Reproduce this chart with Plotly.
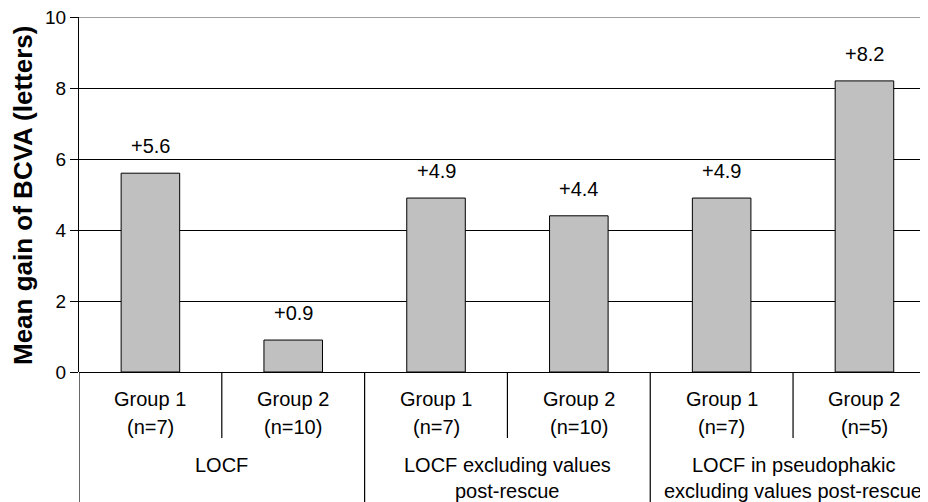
import plotly.graph_objects as go

# ---- data ----
categories = ["LOCF|G1", "LOCF|G2", "EXCL|G1", "EXCL|G2", "PSEUDO|G1", "PSEUDO|G2"]
group_line1 = ["Group 1", "Group 2", "Group 1", "Group 2", "Group 1", "Group 2"]
group_line2 = ["(n=7)", "(n=10)", "(n=7)", "(n=10)", "(n=7)", "(n=5)"]
values = [5.6, 0.9, 4.9, 4.4, 4.9, 8.2]
value_labels = ["+5.6", "+0.9", "+4.9", "+4.4", "+4.9", "+8.2"]
analysis_line1 = ["LOCF", "LOCF excluding values", "LOCF in pseudophakic"]
analysis_line2 = ["", "post-rescue", "excluding values post-rescue"]
y_ticks = [0, 2, 4, 6, 8, 10]
y_title = "Mean gain of BCVA (letters)"

FONT = "Liberation Sans, Arial, sans-serif"
OFF = 8  # page body margin
W, H = 920, 494
M_L, M_T, M_B = 71, 9, 130
plot_h = H - M_T - M_B
plot_w = W - M_L
BASE_PY = OFF + H - M_B  # page pixel of y = 0


def py_to_paper(py):
    return (BASE_PY - py) / plot_h


def px_to_paper(px):
    return (px - OFF - M_L) / plot_w


fig = go.Figure()
fig.add_trace(go.Bar(
    x=categories, y=values, width=0.41,
    marker=dict(color="#c0c0c0", line=dict(color="black", width=1)),
    hoverinfo="skip",
))

annotations = []
for i, (v, t) in enumerate(zip(values, value_labels)):
    annotations.append(dict(x=categories[i], y=v, xref="x", yref="y", text=t,
                            showarrow=False, yanchor="bottom", yshift=14,
                            font=dict(size=20, color="black", family=FONT)))
for i in range(len(categories)):
    annotations.append(dict(x=categories[i], y=py_to_paper(399), xref="x", yref="paper",
                            text=group_line1[i], showarrow=False, yanchor="middle",
                            font=dict(size=20, color="black", family=FONT)))
    annotations.append(dict(x=categories[i], y=py_to_paper(427), xref="x", yref="paper",
                            text=group_line2[i], showarrow=False, yanchor="middle",
                            font=dict(size=20, color="black", family=FONT)))
for g in range(3):
    xc = 2 * g + 0.5
    annotations.append(dict(x=xc, y=py_to_paper(465), xref="x", yref="paper",
                            text=analysis_line1[g], showarrow=False, yanchor="middle",
                            font=dict(size=20, color="black", family=FONT)))
    if analysis_line2[g]:
        annotations.append(dict(x=xc, y=py_to_paper(491), xref="x", yref="paper",
                                text=analysis_line2[g], showarrow=False, yanchor="middle",
                                font=dict(size=20, color="black", family=FONT)))
# y-axis title
annotations.append(dict(x=px_to_paper(23), y=py_to_paper(196), xref="paper", yref="paper",
                        text="<b>" + y_title + "</b>", textangle=-90, showarrow=False,
                        xanchor="center", yanchor="middle",
                        font=dict(size=26, color="black", family=FONT)))

shapes = []
# dividers below the axis
for k in range(6):
    xpos = k - 0.5
    major = (k % 2 == 0)
    shapes.append(dict(type="line", xref="x", yref="paper", x0=xpos, x1=xpos,
                       y0=0, y1=py_to_paper(OFF + H if major else 438),
                       line=dict(color="black", width=1.2)))
# top border line (gray)
shapes.append(dict(type="line", xref="paper", yref="y", x0=0, x1=1, y0=10, y1=10,
                   line=dict(color="#808080", width=1.5), layer="above"))

fig.update_layout(
    width=W, height=H,
    margin=dict(l=M_L, r=0, t=M_T, b=M_B),
    paper_bgcolor="white", plot_bgcolor="white",
    showlegend=False,
    annotations=annotations, shapes=shapes,
    font=dict(family=FONT, color="black"),
    xaxis=dict(type="category", categoryorder="array", categoryarray=categories,
               range=[-0.5, 5.445], showticklabels=False, ticks="",
               showgrid=False, zeroline=False, showline=False, fixedrange=True),
    yaxis=dict(range=[0, 10], tickvals=y_ticks, ticks="outside", ticklen=8,
               tickcolor="black", tickwidth=1.2, ticklabeloverflow="allow",
               showline=True, linecolor="black", linewidth=1.2,
               showgrid=True, gridcolor="black", gridwidth=1.2,
               zeroline=True, zerolinecolor="black", zerolinewidth=1.2,
               tickfont=dict(size=19, color="black", family=FONT),
               automargin=False, fixedrange=True),
)

fig.write_html("out.html")
